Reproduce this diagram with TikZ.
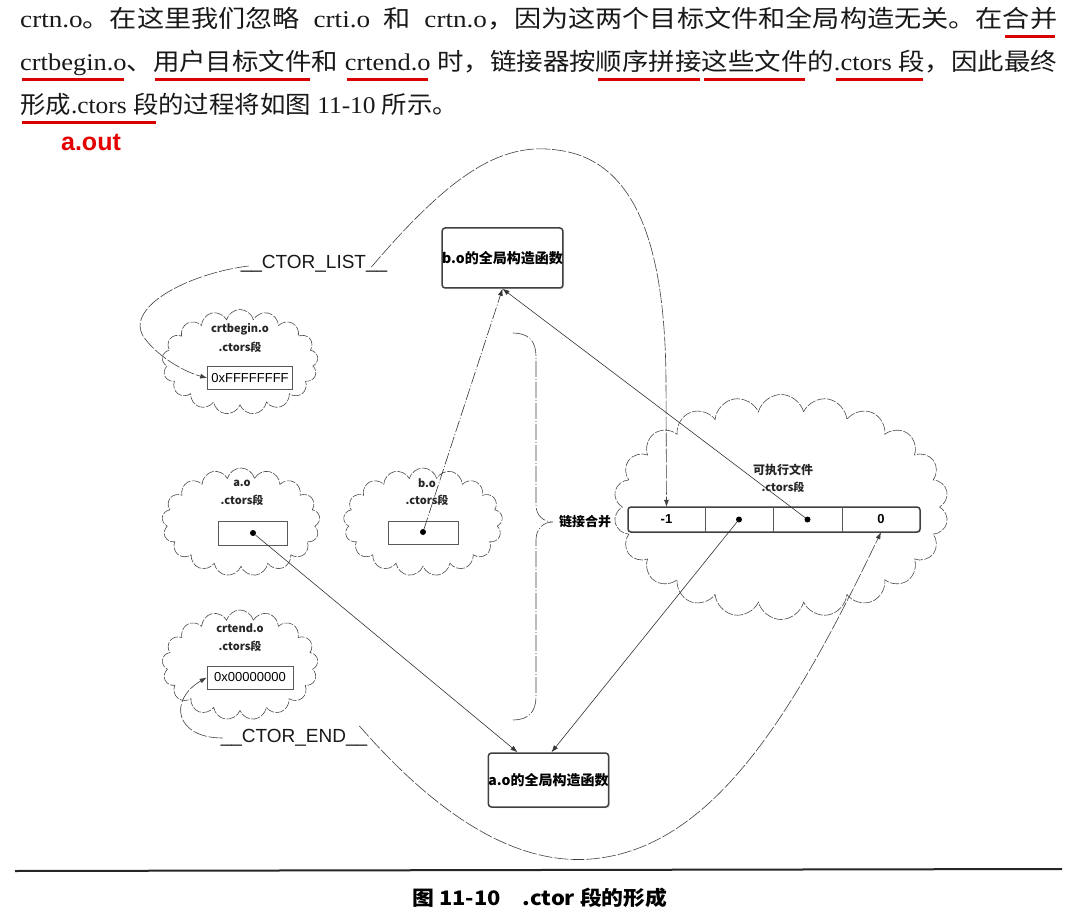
\documentclass[tikz,border=0pt]{standalone}
\usepackage{fontspec}
\usepackage{graphicx}
\setmainfont{Liberation Serif}
\setsansfont{Liberation Sans}
\newfontfamily\cjk{Noto Sans CJK SC}
\usetikzlibrary{shapes.symbols,shadows,arrows.meta,calc}

% Chinese run inside serif text
\newcommand\zh[1]{{\cjk #1}}
% red marker underline under a run of text
\newsavebox\ulbox
\newcommand\rul[1]{\sbox\ulbox{#1}\rlap{\hskip2pt\color{red!85!black}\rule[-10pt]{\dimexpr\wd\ulbox-4pt\relax}{3.2pt}}\usebox\ulbox}
% stretch a line horizontally to a given width
\newcommand\fitto[2]{\resizebox{#1}{\height}{#2}}

\begin{document}
\begin{tikzpicture}[x=1pt,y=-1pt,
  para/.style={inner sep=0pt,anchor=base west,text=black!90,font=\fontsize{24}{28}\selectfont},
  cloudsh/.style={cloud,cloud puffs=#1,cloud ignores aspect,draw=black!70,line width=0.6pt,
    dash pattern=on 9pt off 1.5pt,inner sep=0pt},
  lbl/.style={inner sep=0pt,font=\cjk\bfseries\fontsize{11}{13}\selectfont,text=black!85},
  membox/.style={draw=black!65,line width=0.6pt,inner sep=0pt,
    font=\sffamily\fontsize{13}{15}\selectfont},
  fnbox/.style={draw=black!75,line width=1.5pt,rounded corners=3pt,fill=white,inner sep=0pt,
    drop shadow={opacity=0.25,shadow xshift=1.2pt,shadow yshift=-1.2pt},
    font=\cjk\bfseries\fontsize{14}{16}\selectfont},
  cell/.style={inner sep=0pt,minimum height=25pt,font=\sffamily\bfseries\fontsize{13}{15}\selectfont},
  dotnode/.style={circle,fill=black,inner sep=0pt,minimum size=6pt},
  conn/.style={draw=black!80,line width=0.6pt,-{Latex[length=7pt,width=5pt]}},
  dconn/.style={conn,dash pattern=on 12pt off 2pt on 1pt off 2pt},
  linkline/.style={draw=black!75,line width=0.6pt,dash pattern=on 14pt off 2pt},
  symbol/.style={inner sep=0pt,font=\sffamily\fontsize{19}{21}\selectfont,text=black!90}
]
\useasboundingbox (0,0) rectangle (1077,920);
\fill[white] (0,0) rectangle (1077,920);

% ---------- running text ----------
\node[para] (line1) at (20,28) {\fitto{1037pt}{crtn.o\zh{。在这里我们忽略}\ \ crti.o\ \ \zh{和}\ \ crtn.o\zh{，因为这两个目标文件和全局构造无关。在}\rul{\zh{合并}}}};
\node[para] (line2) at (20,71) {\fitto{1037pt}{\rul{crtbegin.o}\zh{、}\rul{\zh{用户目标文件}}\zh{和}\ \rul{crtend.o}\ \zh{时，链接器按}\rul{\zh{顺序拼接}}\rul{\zh{这些文件}}\zh{的}\rul{.ctors\ \zh{段}}\zh{，因此最终}}};
\node[para] (line3) at (20,114) {\fitto{438pt}{\rul{\zh{形成}.ctors\ \zh{段}}\zh{的过程将如图}\ 11-10\ \zh{所示。}}};
\node[inner sep=0pt,text=red!90!black,font=\sffamily\bfseries\fontsize{25}{27}\selectfont] (aout) at (91,142) {a.out};

% ---------- object file sections ----------
\node[cloudsh=17,minimum width=156pt,minimum height=105pt] (cbcloud) at (240,362) {};
\node[lbl] (cbname) at (240,329) {crtbegin.o};
\node[lbl] (cbsec) at (240,347) {.ctors段};
\node[membox,minimum width=85pt,minimum height=23pt] (cbval) at (250,378) {0xFFFFFFFF};

\node[cloudsh=17,minimum width=158pt,minimum height=108pt] (aocloud) at (241,522) {};
\node[lbl] (aoname) at (242,483) {a.o};
\node[lbl] (aosec) at (242,500) {.ctors段};
\node[membox,minimum width=69pt,minimum height=24pt] (aoval) at (252.5,533) {};
\node[dotnode] (aodot) at (253,533) {};

\node[cloudsh=17,minimum width=159pt,minimum height=108pt] (bocloud) at (423,522) {};
\node[lbl] (boname) at (427,483) {b.o};
\node[lbl] (bosec) at (427,500) {.ctors段};
\node[membox,minimum width=70pt,minimum height=23pt] (boval) at (423,532.5) {};
\node[dotnode] (bodot) at (423,532) {};

\node[cloudsh=17,minimum width=156pt,minimum height=110pt] (cecloud) at (240,665) {};
\node[lbl] (cename) at (240,628) {crtend.o};
\node[lbl] (cesec) at (240,646) {.ctors段};
\node[membox,minimum width=86pt,minimum height=23pt] (ceval) at (250,677.5) {0x00000000};

% ---------- executable .ctors ----------
\node[cloudsh=22,minimum width=335pt,minimum height=225pt] (excloud) at (781,507) {};
\node[lbl,font=\cjk\bfseries\fontsize{12}{14}\selectfont] (exname) at (783,470) {可执行文件};
\node[lbl] (exsec) at (783,487) {.ctors段};
\node[fnbox,minimum width=292pt,minimum height=25pt,font=\sffamily] (arr) at (774,519.5) {};
\node[cell,minimum width=77pt] (c1) at (666.5,519.5) {-1};
\node[cell,minimum width=68pt] (c2) at (739,519.5) {};
\node[cell,minimum width=69pt] (c3) at (807.5,519.5) {};
\node[cell,minimum width=78pt] (c4) at (881,519.5) {0};
\draw[black!65,line width=0.6pt] (c1.north east) -- (c1.south east)
  (c2.north east) -- (c2.south east) (c3.north east) -- (c3.south east);
\node[dotnode] (c2dot) at (c2) {};
\node[dotnode] (c3dot) at (c3) {};

% ---------- global constructors ----------
\node[fnbox,minimum width=115pt,minimum height=60pt] (bctor) at (502.5,258) {b.o的全局构造函数};
\node[fnbox,minimum width=117pt,minimum height=54pt] (actor) at (548.5,780) {a.o的全局构造函数};

% ---------- link merge brace ----------
\coordinate (btop) at (513,333);
\coordinate (btip) at (553,522);
\coordinate (bbot) at (513,720);
\draw[black!75,line width=0.6pt,dash pattern=on 16pt off 2pt on 1pt off 2pt]
  (btop) .. controls (528,333) and (536,341) .. (536,356) -- (536,505)
  .. controls (536,516) and (544,522) .. (btip)
  .. controls (544,522) and (536,528) .. (536,540) -- (536,697)
  .. controls (536,712) and (528,720) .. (bbot);
\node[anchor=west,inner sep=0pt,font=\cjk\bfseries\fontsize{13}{15}\selectfont] (merge) at ([xshift=6pt]btip) {链接合并};

% ---------- symbols ----------
\node[symbol] (ctorlist) at (314,264) {\_\_CTOR\_LIST\_\_};
\node[symbol] (ctorend) at (294,738) {\_\_CTOR\_END\_\_};

% ---------- connectors ----------
\draw[conn,linkline] ([xshift=-16pt,yshift=-3pt]ctorlist.east)
  .. controls (450,175) and (500,142) .. (557,150)
  .. controls (640,160) and (665,255) .. (666,380) -- (c1.north);
\draw[conn,linkline] ([xshift=8pt,yshift=-2pt]ctorlist.west)
  .. controls (185,274) and (120,310) .. (146,340)
  .. controls (160,358) and (185,372) .. (cbval.west);
\draw[conn,linkline] ([xshift=2pt]ctorend.west)
  .. controls (175,738) and (168,700) .. (ceval.west);
\draw[conn,linkline] ([xshift=-8pt,yshift=12pt]ctorend.east)
  .. controls (450,830) and (530,868) .. (600,858)
  .. controls (720,842) and (800,700) .. (c4.south);

\draw[conn] (aodot) -- ([xshift=-31pt]actor.north);
\draw[conn] (c2dot) -- ([xshift=3pt]actor.north);
\draw[dconn] (bodot) -- (bctor.south);
\draw[conn] (c3dot) -- (bctor.south);

% ---------- caption ----------
\draw[black!85,line width=2pt] (15,871) -- (1062,869);
\node[inner sep=0pt,font=\cjk\bfseries\fontsize{20}{24}\selectfont] (caption) at (540,898)
  {\fitto{255pt}{图 11-10\quad .ctor 段的形成}};
\end{tikzpicture}
\end{document}
